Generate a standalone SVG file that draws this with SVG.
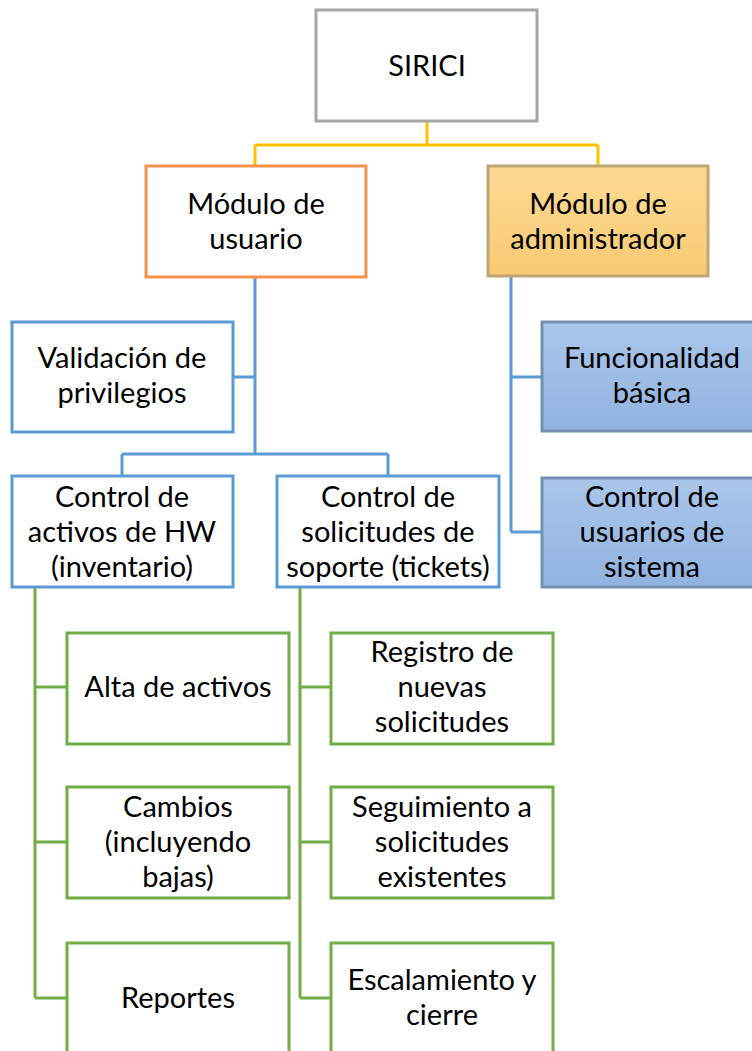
<svg xmlns="http://www.w3.org/2000/svg" width="752" height="1051" viewBox="0 0 752 1051">
<defs>
<linearGradient id="gOrange" x1="0" y1="0" x2="0" y2="1">
<stop offset="0" stop-color="#FCDA94"/>
<stop offset="1" stop-color="#F8CA72"/>
</linearGradient>
<linearGradient id="gBlue" x1="0" y1="0" x2="0" y2="1">
<stop offset="0" stop-color="#AAC6EA"/>
<stop offset="1" stop-color="#91B3E1"/>
</linearGradient>
<style>
text{font-family:Lato,"Noto Sans","DejaVu Sans",sans-serif;font-size:29px;fill:#000;text-anchor:middle}
.box{stroke-width:3}
.gray{fill:#fff;stroke:#A6A6A6}
.orange{fill:#fff;stroke:#F4914B}
.admin{fill:url(#gOrange);stroke:#BDA775}
.blue{fill:#fff;stroke:#5B9BD5}
.bfill{fill:url(#gBlue);stroke:#7390B0}
.green{fill:#fff;stroke:#70AD47}
.cy{fill:none;stroke:#FFC000;stroke-width:3}
.cb{fill:none;stroke:#5B9BD5;stroke-width:3}
.cg{fill:none;stroke:#70AD47;stroke-width:3}
</style>
</defs>
<g id="connectors">
<path class="cy" d="M427,121 V145 M255,145 H598 M255,145 V167 M598,145 V167"/>
<path class="cb" d="M255,276 V454 M233,377 H255 M122,454 H388 M122,454 V476 M388,454 V476"/>
<path class="cb" d="M511,276 V532 M511,377 H542 M511,532 H542"/>
<path class="cg" d="M35,587 V998 M35,687 H67 M35,842 H67 M35,998 H67"/>
<path class="cg" d="M300,587 V998 M300,687 H331 M300,842 H331 M300,998 H331"/>
</g>
<g id="sirici"><rect class="box gray" x="316" y="10" width="221" height="111"/><text x="427" y="76">SIRICI</text></g>
<g id="modulo-usuario"><rect class="box orange" x="146" y="166" width="220" height="111"/><text x="256" y="214">Módulo de</text><text x="256" y="249">usuario</text></g>
<g id="modulo-admin"><rect class="box admin" x="488" y="166" width="220" height="110"/><text x="598" y="214">Módulo de</text><text x="598" y="249">administrador</text></g>
<g id="validacion"><rect class="box blue" x="12" y="322" width="221" height="110"/><text x="122" y="368">Validación de</text><text x="122" y="403">privilegios</text></g>
<g id="funcionalidad"><rect class="box bfill" x="542" y="322" width="220" height="109"/><text x="652" y="368">Funcionalidad</text><text x="652" y="403">básica</text></g>
<g id="control-activos"><rect class="box blue" x="12" y="476" width="221" height="111"/><text x="122" y="507">Control de</text><text x="122" y="542">activos de HW</text><text x="122" y="577">(inventario)</text></g>
<g id="control-solicitudes"><rect class="box blue" x="277" y="476" width="222" height="111"/><text x="388" y="507">Control de</text><text x="388" y="542">solicitudes de</text><text x="388" y="577">soporte (tickets)</text></g>
<g id="control-usuarios"><rect class="box bfill" x="542" y="478" width="220" height="109"/><text x="652" y="507">Control de</text><text x="652" y="542">usuarios de</text><text x="652" y="577">sistema</text></g>
<g id="alta"><rect class="box green" x="67" y="633" width="222" height="111"/><text x="178" y="697">Alta de activos</text></g>
<g id="cambios"><rect class="box green" x="67" y="787" width="222" height="111"/><text x="178" y="817">Cambios</text><text x="178" y="852">(incluyendo</text><text x="178" y="887">bajas)</text></g>
<g id="reportes"><rect class="box green" x="67" y="943" width="222" height="111"/><text x="178" y="1008">Reportes</text></g>
<g id="registro"><rect class="box green" x="331" y="633" width="222" height="111"/><text x="442" y="662">Registro de</text><text x="442" y="697">nuevas</text><text x="442" y="732">solicitudes</text></g>
<g id="seguimiento"><rect class="box green" x="331" y="787" width="222" height="111"/><text x="442" y="817">Seguimiento a</text><text x="442" y="852">solicitudes</text><text x="442" y="887">existentes</text></g>
<g id="escalamiento"><rect class="box green" x="331" y="943" width="222" height="111"/><text x="442" y="990">Escalamiento y</text><text x="442" y="1025">cierre</text></g>
</svg>
